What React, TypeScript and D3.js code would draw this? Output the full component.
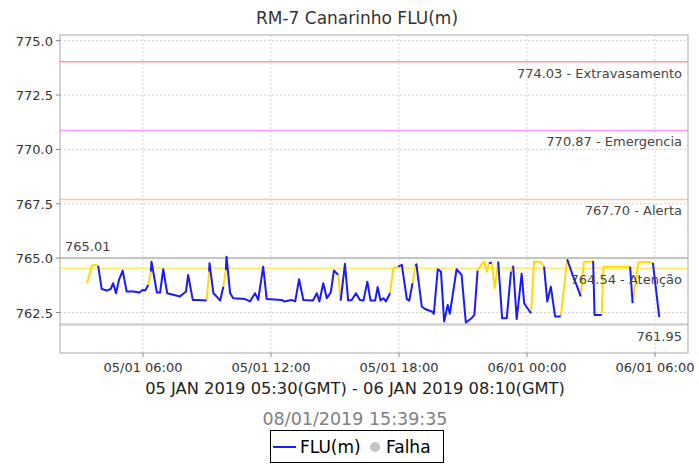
import * as d3 from 'd3'

// minutes since 05/01 00:00 (local, GMT-2)
const TIMES = [
  203, 216, 225, 234, 244, 258, 269, 276, 284, 293, 303, 314, 333, 350, 359, 366, 375, 382, 384, 399,
  408, 417, 428, 464, 481, 487, 500, 515, 539, 546, 547, 558, 567, 577, 586, 593, 595, 605, 614, 647,
  661, 675, 684, 698, 708, 750, 757, 778, 788, 799, 811, 838, 849, 856, 867, 877, 888, 897, 909, 916,
  928, 937, 947, 959, 970, 980, 991, 1000, 1013, 1020, 1028, 1036, 1043, 1055, 1064, 1078, 1088, 1102, 1109, 1118,
  1126, 1129, 1144, 1153, 1172, 1178, 1189, 1198, 1207, 1217, 1223, 1242, 1256, 1268, 1284, 1292, 1301, 1311, 1320, 1327,
  1333, 1341, 1349, 1359, 1370, 1383, 1395, 1401, 1411, 1425, 1432, 1451, 1460, 1477, 1488, 1497, 1507, 1519, 1535, 1553,
  1570, 1581, 1591, 1600, 1617, 1626, 1630, 1650, 1655, 1692, 1730, 1737, 1753, 1777, 1794, 1812,
]
const LEVELS = [
  763.85, 764.65, 764.7, 764.65, 763.58, 763.51, 763.58, 763.85, 763.39, 764.03, 764.43, 763.47, 763.47, 763.42, 763.54, 763.51, 763.77, 764.38, 764.84, 763.42,
  763.42, 764.49, 763.39, 763.24, 763.47, 764.23, 763.08, 763.08, 763.05, 764.38, 764.77, 763.39, 763.24, 763.05, 763.69, 764.46, 765.07, 763.39, 763.16, 763.12,
  763.01, 763.39, 763.08, 764.61, 763.12, 763.08, 763.01, 763.08, 763.01, 764.03, 763.08, 763.05, 763.39, 763.01, 763.85, 763.16, 763.42, 764.43, 764.23, 763.05,
  764.74, 763.05, 763.08, 763.39, 763.08, 763.05, 763.92, 763.05, 763.05, 763.67, 763.05, 763.16, 763.01, 763.39, 764.54, 764.61, 764.69, 763.12, 763.05, 763.85,
  764.65, 764.72, 762.78, 762.66, 762.55, 762.44, 764.49, 764.38, 762.09, 762.85, 762.44, 764.49, 764.23, 762.04, 762.24, 762.39, 764.43, 764.69, 764.84, 764.38,
  764.77, 764.8, 763.62, 764.84, 762.24, 762.24, 764.38, 764.65, 762.2, 764.28, 762.93, 762.47, 764.84, 764.84, 764.61, 763.01, 763.69, 762.32, 762.32, 764.95,
  764.15, 763.69, 763.24, 764.83, 764.84, 764.87, 762.39, 762.39, 764.61, 764.61, 764.61, 762.93, 764.8, 764.84, 764.78, 762.29,
]
// 1 = segment ending at this point drawn yellow
const YELLOW = [
  0, 1, 1, 1, 0, 0, 0, 0, 0, 0, 0, 0, 0, 0, 0, 0, 0, 1, 0, 0,
  0, 0, 0, 0, 0, 0, 0, 0, 0, 1, 0, 0, 0, 0, 0, 1, 0, 0, 0, 0,
  0, 0, 0, 0, 0, 0, 0, 0, 0, 0, 0, 0, 0, 0, 0, 0, 0, 0, 0, 1,
  0, 0, 0, 0, 0, 0, 0, 0, 0, 0, 0, 0, 0, 0, 1, 1, 0, 0, 0, 0,
  1, 0, 0, 0, 0, 0, 0, 0, 0, 0, 0, 0, 0, 0, 0, 0, 0, 1, 1, 1,
  1, 0, 1, 1, 0, 0, 0, 1, 0, 0, 0, 0, 1, 1, 1, 0, 0, 0, 0, 1,
  0, 0, 0, 1, 1, 1, 0, 0, 1, 1, 1, 0, 1, 1, 1, 0,
]

const LIMIT_VALUES = [774.03, 770.87, 767.7, 764.54]
const LIMIT_NAMES = ['Extravasamento', 'Emergencia', 'Alerta', 'Atenção']
const LIMIT_COLORS = ['#ff9c9c', '#f99cf9', '#ffc898', '#ffec6a']
const MAX_VALUE = 765.01
const MIN_VALUE = 761.95

const X_TICKS = [360, 720, 1080, 1440, 1800]
const Y_TICKS = [762.5, 765, 767.5, 770, 772.5, 775]

const W = 699
const H = 465
const PLOT = { left: 60, right: 688, top: 35, bottom: 353 }
const CX = 356
const FONT = '"DejaVu Sans", sans-serif'

const fmtTime = (m: number) => {
  const day = 5 + Math.floor(m / 1440)
  const mm = m % 1440
  return `${String(day).padStart(2, '0')}/01 ${String(Math.floor(mm / 60)).padStart(2, '0')}:${String(mm % 60).padStart(2, '0')}`
}

export default function App() {
  const x = d3.scaleLinear().domain([126.6, 1892.8]).range([PLOT.left, PLOT.right])
  const y = d3.scaleLinear().domain([760.64, 775.26]).range([PLOT.bottom, PLOT.top])

  // group consecutive segments of the same colour into runs
  const runs: { yellow: boolean; idx: number[] }[] = []
  for (let i = 1; i < TIMES.length; i++) {
    const yel = YELLOW[i] === 1
    const last = runs[runs.length - 1]
    if (last && last.yellow === yel) last.idx.push(i)
    else runs.push({ yellow: yel, idx: [i - 1, i] })
  }
  const line = d3.line<number>().x(i => x(TIMES[i])).y(i => y(LEVELS[i]))

  const fmtY = d3.format('.1f')

  return (
    <svg width={W} height={H} style={{ position: 'fixed', left: 0, top: 0, background: '#fff' }} fontFamily={FONT}>
      <rect x={0} y={0} width={W} height={H} fill="#fff" />
      <text x={CX + 1} y={24} textAnchor="middle" fontSize={17} fill="#333">RM-7 Canarinho FLU(m)</text>

      {/* grid */}
      {X_TICKS.map(t => (
        <line key={'gx' + t} x1={x(t)} x2={x(t)} y1={PLOT.top} y2={PLOT.bottom} stroke="#d4d4d4" strokeDasharray="2,2" />
      ))}
      {Y_TICKS.map(t => (
        <line key={'gy' + t} x1={PLOT.left} x2={PLOT.right} y1={y(t)} y2={y(t)} stroke="#d4d4d4" strokeDasharray="2,2" />
      ))}

      {/* limit lines */}
      {LIMIT_VALUES.map((v, i) => (
        <line key={'lim' + i} x1={PLOT.left} x2={PLOT.right} y1={y(v)} y2={y(v)} stroke={LIMIT_COLORS[i]} strokeWidth={1.5} />
      ))}
      <line x1={PLOT.left} x2={PLOT.right} y1={y(MAX_VALUE)} y2={y(MAX_VALUE)} stroke="#b4b4b4" strokeWidth={1.5} />
      <line x1={PLOT.left} x2={PLOT.right} y1={y(MIN_VALUE)} y2={y(MIN_VALUE)} stroke="#d2d2d2" strokeWidth={2.5} />

      {/* series */}
      {runs.filter(r => r.yellow).map((r, k) => (
        <path key={'y' + k} d={line(r.idx) ?? ''} fill="none" stroke="#ffdc00" strokeWidth={2} strokeLinejoin="round" />
      ))}
      {runs.filter(r => !r.yellow).map((r, k) => (
        <path key={'b' + k} d={line(r.idx) ?? ''} fill="none" stroke="#1a1aff" strokeWidth={2} strokeLinejoin="round" />
      ))}

      {/* limit labels */}
      {LIMIT_VALUES.map((v, i) => (
        <text key={'ll' + i} x={PLOT.right - 6} y={y(v) + 16} textAnchor="end" fontSize={13} fill="#444">
          {`${v.toFixed(2)} - ${LIMIT_NAMES[i]}`}
        </text>
      ))}
      <text x={PLOT.left + 5} y={y(MAX_VALUE) - 7} fontSize={13} fill="#444">{MAX_VALUE.toFixed(2)}</text>
      <text x={PLOT.right - 6} y={y(MIN_VALUE) + 16} textAnchor="end" fontSize={13} fill="#444">{MIN_VALUE.toFixed(2)}</text>

      {/* plot border */}
      <rect x={PLOT.left} y={PLOT.top} width={PLOT.right - PLOT.left} height={PLOT.bottom - PLOT.top} fill="none" stroke="#a8a8a8" />

      {/* y axis */}
      {Y_TICKS.map(t => (
        <g key={'yt' + t}>
          <line x1={PLOT.left - 4} x2={PLOT.left} y1={y(t)} y2={y(t)} stroke="#888" />
          <text x={PLOT.left - 7} y={y(t) + 5} textAnchor="end" fontSize={13} fill="#333">{fmtY(t)}</text>
        </g>
      ))}

      {/* x axis */}
      {X_TICKS.map(t => (
        <g key={'xt' + t}>
          <line x1={x(t)} x2={x(t)} y1={PLOT.bottom} y2={PLOT.bottom + 4} stroke="#888" />
          <text x={x(t)} y={372} textAnchor="middle" fontSize={13} fill="#333">{fmtTime(t)}</text>
        </g>
      ))}
      <text x={CX - 1} y={394} textAnchor="middle" fontSize={16.3} fill="#222">05 JAN 2019 05:30(GMT) - 06 JAN 2019 08:10(GMT)</text>
      <text x={CX - 1} y={425} textAnchor="middle" fontSize={17.5} fill="#808080">08/01/2019 15:39:35</text>

      {/* legend */}
      <rect x={270.5} y={430.5} width={173} height={32} fill="#fff" stroke="#000" />
      <line x1={273} x2={296} y1={447} y2={447} stroke="#1a1aff" strokeWidth={2} />
      <text x={300} y={453} fontSize={17} fill="#000">FLU(m)</text>
      <circle cx={375} cy={447} r={5} fill="#c4c4c4" />
      <text x={386} y={453} fontSize={17} fill="#000">Falha</text>
    </svg>
  )
}
